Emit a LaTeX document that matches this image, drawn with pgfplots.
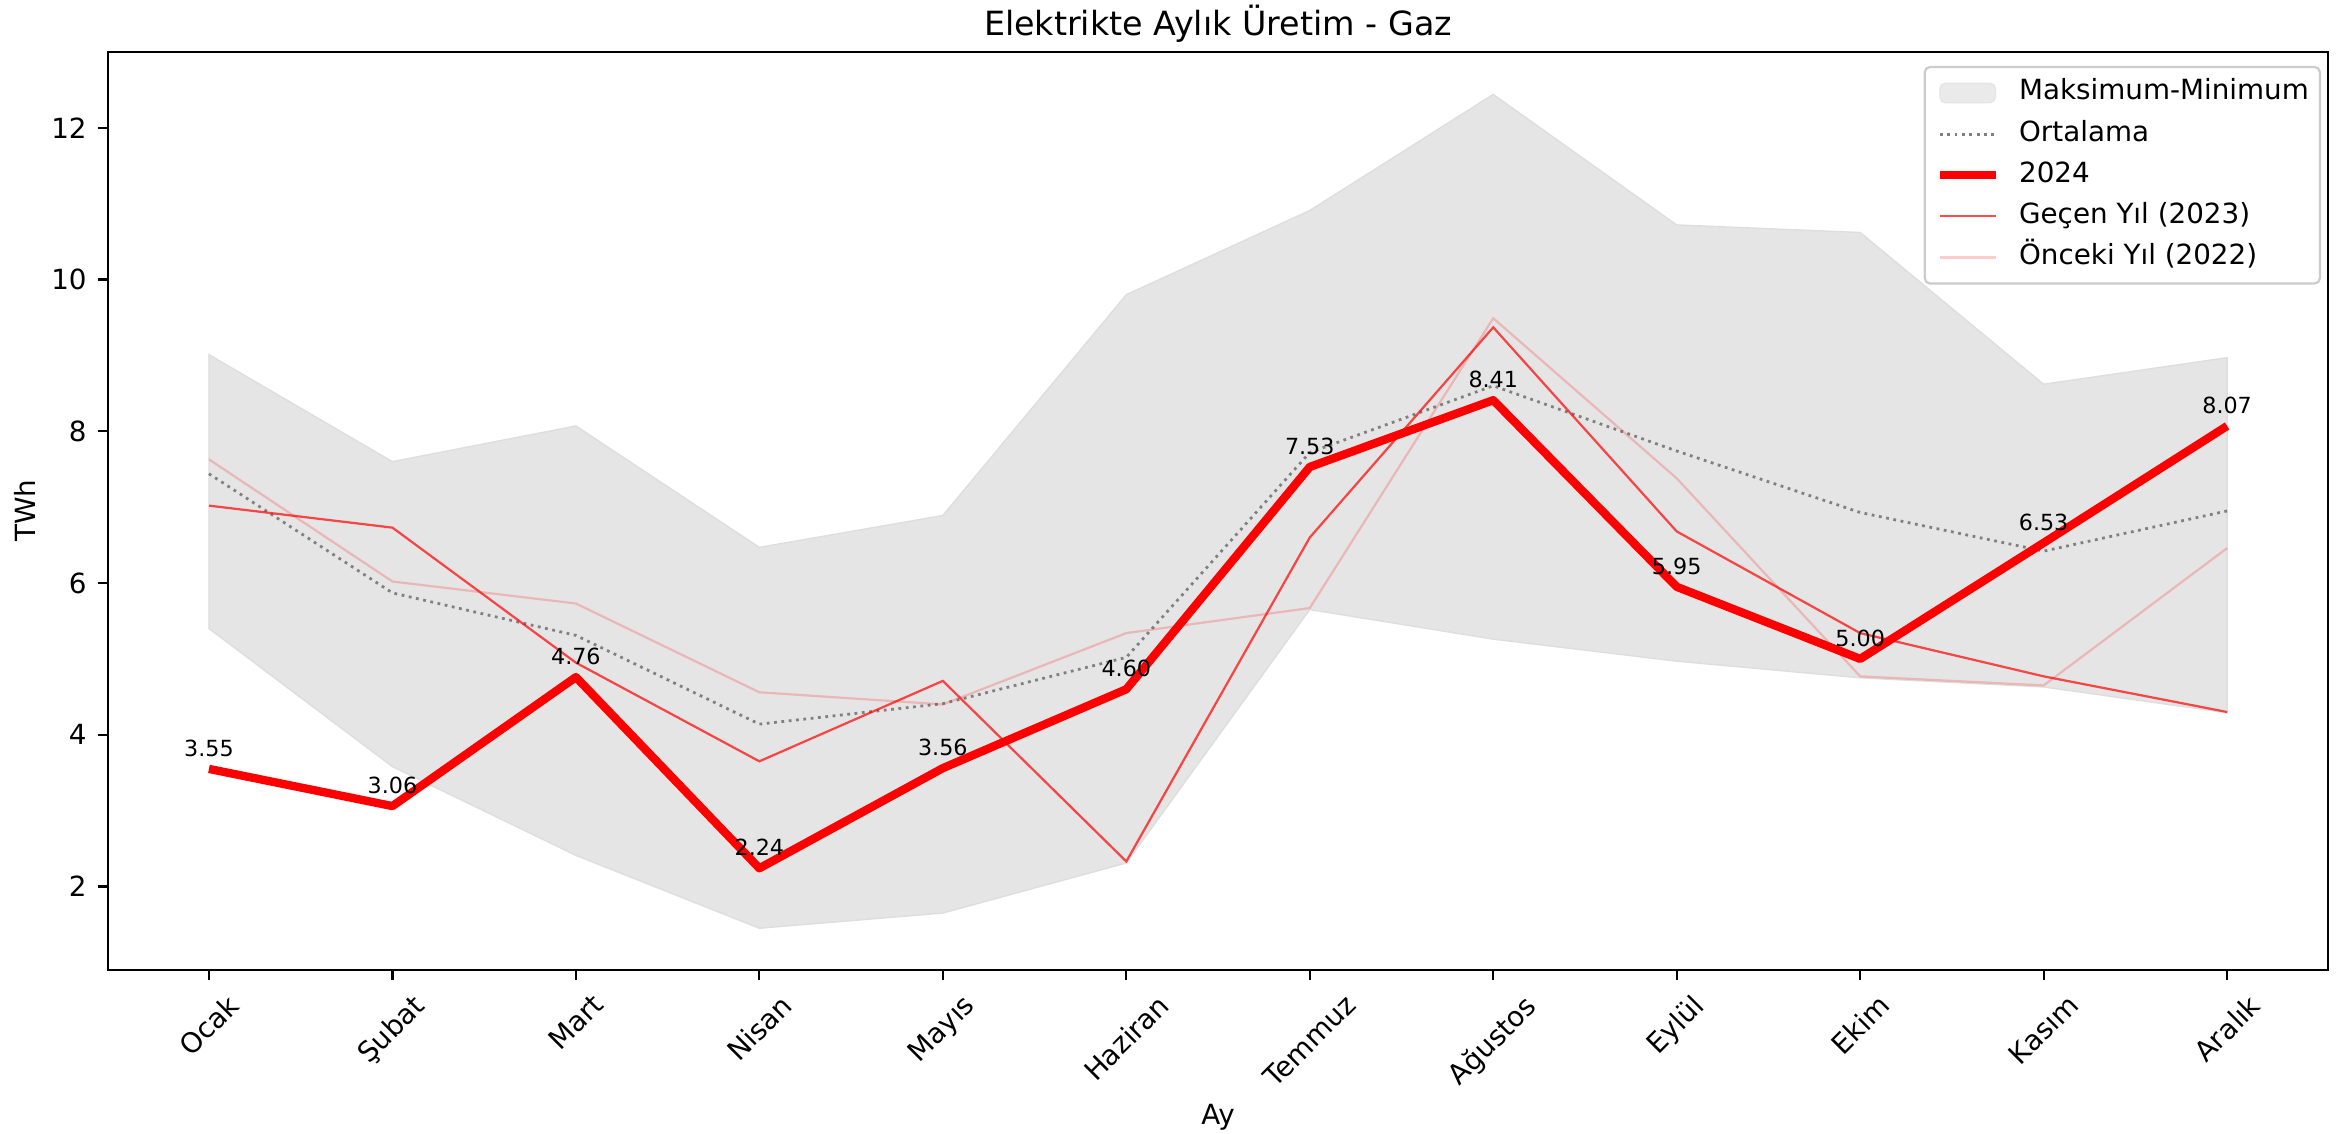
\documentclass[border=0pt]{standalone}
\usepackage{fontspec}
\setmainfont{DejaVu Sans}
\usepackage{graphicx}
\usepackage{pgfplots}
\pgfplotsset{compat=1.18}
\usepgfplotslibrary{fillbetween}

\pgfplotstableread{
x maxv minv ort y24 y23 y22
0 9.01 5.40 7.44 3.55 7.02 7.63
1 7.60 3.58 5.87 3.06 6.73 6.02
2 8.07 2.41 5.31 4.76 4.95 5.73
3 6.47 1.45 4.14 2.24 3.65 4.56
4 6.89 1.65 4.41 3.56 4.71 4.40
5 9.80 2.31 5.02 4.60 2.33 5.34
6 10.91 5.65 7.72 7.53 6.60 5.67
7 12.44 5.26 8.60 8.41 9.37 9.49
8 10.72 4.97 7.74 5.95 6.68 7.38
9 10.62 4.75 6.93 5.00 5.34 4.77
10 8.62 4.63 6.42 6.53 4.77 4.65
11 8.97 4.29 6.95 8.07 4.30 6.46
}\datatable

\begin{document}
\begin{tikzpicture}
\begin{axis}[
  scale only axis, width=799.2pt, height=330.5pt,
  xmin=-0.55, xmax=11.55, ymin=0.9, ymax=13.0,
  xtick={0,1,2,3,4,5,6,7,8,9,10,11},
  xticklabels={\rotatebox{45}{Ocak},\rotatebox{45}{Şubat},\rotatebox{45}{Mart},\rotatebox{45}{Nisan},\rotatebox{45}{Mayıs},\rotatebox{45}{Haziran},\rotatebox{45}{Temmuz},\rotatebox{45}{Ağustos},\rotatebox{45}{Eylül},\rotatebox{45}{Ekim},\rotatebox{45}{Kasım},\rotatebox{45}{Aralık}},
  ytick={2,4,6,8,10,12},
  tick align=outside, xtick pos=bottom, ytick pos=left,
  major tick length=3.5pt,
  every tick/.append style={black, line width=0.8pt},
  axis line style={line width=0.8pt},
  tick label style={font=\fontsize{10}{12}\selectfont, text=black},
  /pgf/number format/assume math mode=true,
  xticklabel style={anchor=north, inner sep=0pt, yshift=-4.5pt},
  yticklabel style={anchor=east, inner sep=0pt, xshift=-4pt},
  xlabel={Ay}, ylabel={TWh},
  xlabel style={at={(rel axis cs:0.5,-0.16006)}, anchor=center, font=\fontsize{10}{12}\selectfont, inner sep=0pt},
  ylabel style={at={(rel axis cs:-0.03741,0.5)}, anchor=center, font=\fontsize{10}{12}\selectfont, inner sep=0pt},
  title={Elektrikte Aylık Üretim - Gaz},
  title style={at={(rel axis cs:0.5,1)}, anchor=base, yshift=0pt, inner sep=0pt, font=\fontsize{12}{14}\selectfont},
  legend cell align=left,
  legend style={at={(rel axis cs:1,1)}, anchor=north east, xshift=-2.5pt, yshift=-5pt,
    draw=black!20, line width=0.8pt, rounded corners=2pt, fill=white, fill opacity=0.8, text opacity=1,
    font=\fontsize{10}{12}\selectfont, inner xsep=4pt, inner ysep=4.4pt, row sep=4.8pt,
    nodes={inner sep=0pt, text height=7.5pt, text depth=2.5pt}},
  legend image code/.code={\draw[#1] (0pt,0pt) -- (20pt,0pt); \path (27pt,0pt);},
]
\addplot[name path=maxp, draw=none, forget plot] table[x=x, y=maxv] {\datatable};
\addplot[name path=minp, draw=none, forget plot] table[x=x, y=minv] {\datatable};
\addplot[fill=black!10, draw=black!13, line width=0.5pt,
  legend image code/.code={\fill[black!10] (0pt,-3.5pt) rectangle (20pt,3.5pt); \path (27pt,0pt);}]
  fill between[of=maxp and minp];
\addlegendentry{Maksimum-Minimum}
\addplot[gray, line width=1pt, dash pattern=on 1pt off 1.65pt] table[x=x, y=ort] {\datatable};
\addlegendentry{Ortalama}
\addplot[red, line width=3pt, line join=round,
  nodes near coords={\pgfmathprintnumber[fixed, fixed zerofill, precision=2]{\pgfplotspointmeta}},
  point meta=y,
  every node near coord/.append style={anchor=base, yshift=4.5pt, inner sep=0pt, text=black, font=\fontsize{8}{10}\selectfont}]
  table[x=x, y=y24] {\datatable};
\addlegendentry{2024}
\addplot[red, opacity=0.7, line width=0.8pt] table[x=x, y=y23] {\datatable};
\addlegendentry{Geçen Yıl (2023)}
\addplot[red, opacity=0.2, line width=0.8pt] table[x=x, y=y22] {\datatable};
\addlegendentry{Önceki Yıl (2022)}
\end{axis}
\pgfresetboundingbox
\path[use as bounding box] ([shift={(-38.9pt,-59pt)}]current axis.south west) rectangle ([shift={(7.2pt,18.7pt)}]current axis.north east);
\end{tikzpicture}
\end{document}
